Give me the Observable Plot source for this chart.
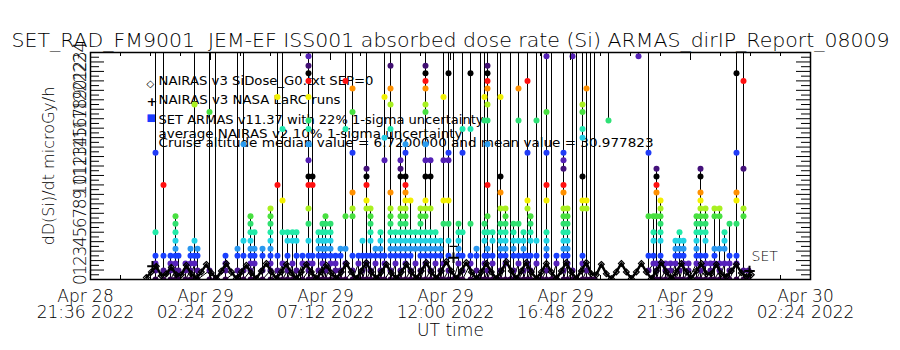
<!DOCTYPE html>
<html><head><meta charset="utf-8">
<script src="https://cdn.jsdelivr.net/npm/d3@7"></script>
<script src="https://cdn.jsdelivr.net/npm/@observablehq/plot@0.6"></script>
<style>
html,body{margin:0;padding:0;background:#fff;}
#chart svg text{font-family:"DejaVu Sans",sans-serif;white-space:pre;}
</style></head><body><div id="chart"></div>
<script>
// ---- text ----
const titleText = "SET_RAD_FM9001  JEM-EF ISS001 absorbed dose rate (Si) ARMAS_dirIP_Report_08009";
const yLabel = "dD(Si)/dt microGy/h";
const xLabel = "UT time";
const legendLines = [
  "NAIRAS v3 SiDose_G0.txt SEP=0",
  "NAIRAS v3 NASA LaRC runs",
  "SET ARMAS v11.37 with 22% 1-sigma uncertainty",
  "average NAIRAS v2 10% 1-sigma uncertainty",
  "Cruise altitude median value = 6.7200000 and mean value = 30.977823"
];
const legendSymbols = ["\u25C7", "+", "\u25A0"];
const setLabel = "SET";

// ---- axes ----
const xTickTimes = ["2022-04-28T21:36Z","2022-04-29T02:24Z","2022-04-29T07:12Z","2022-04-29T12:00Z","2022-04-29T16:48Z","2022-04-29T21:36Z","2022-04-30T02:24Z"];
const xTickLabels = ["Apr 28\n21:36 2022","Apr 29\n02:24 2022","Apr 29\n07:12 2022","Apr 29\n12:00 2022","Apr 29\n16:48 2022","Apr 29\n21:36 2022","Apr 30\n02:24 2022"];
const xMinorStepMin = 72;
const yTickLabels = ["0","1","2","3","4","5","6","7","8","9","10","11","12","13","14","15","16","17","18","19","20","21","22","23","24"];

// ---- data: hours since 2022-04-29 00:00 UT ----
// NAIRAS v3 SiDose (sampled every 12 min from 2022-04-28 23:50 UT)
const nairasStart = "2022-04-28T23:50Z";
const nairasStepMin = 12;
const nairasV = [0.2,0.8,1.4,0.4,0.6,1.3,0.5,0.5,1.5,0.6,0.1,0.8,1.6,0.7,0.1,0.9,1.7,0.8,0.1,0.8,
  1.5,0.7,0.1,0.9,1.7,0.8,0.1,0.8,1.6,0.7,0.1,0.8,1.6,0.8,0.1,0.8,1.5,0.7,0.1,0.8,
  1.7,0.8,0.1,0.9,1.8,0.8,0.1,0.8,1.6,0.7,0.1,0.8,1.6,0.8,0.1,0.9,1.8,0.8,0.1,0.9,
  1.9,0.9,0.1,0.9,1.8,0.8,0.1,0.8,1.7,0.8,0.1,0.9,1.9,0.9,0.1,0.9,1.8,0.8,0.1,0.8,
  1.7,0.8,0.1,0.9,1.8,0.8,0.1,0.9,1.8,0.6,0.5,1.6,0.6,0.1,0.8,1.7,0.8,0.1,0.8,1.7,
  0.8,0.1,0.9,1.8,0.8,0.1,0.8,1.7,0.8,0.1,0.9,1.7,0.6,0.6,1.6,0.6,0.3,0.9,1.6,0.7,
  0.3,0.5];
// NAIRAS v3 NASA LaRC runs
const nasaH = [0.08, 12.12, 23.96];
const nasaV = [1.4, 2.3, 0.9];
// average NAIRAS v2 (10% 1-sigma)
const avgH = [12.12];
const avgLo = [2.3];
const avgHi = [3.5];
// SET ARMAS: [hour, values in time order]; null = data gap
const armasCols = [
 [0.20,[0.95,1.7,2.5,5.0,13.4,30,0]],
 [0.52,[0.95,2.5,10.0,30,0]],
 [0.80,[0.95,1.7,2.5,0]],
 [1.00,[0.95,1.7,2.5,3.25,4.1,5.0,5.9,6.7,0]],
 [1.12,[0.95,2.5,0]],
 [1.40,[0.95,1.7,0]],
 [1.60,[0.95,1.7,2.5,3.25,0]],
 [1.76,[1.7,2.5,4.1,18.5,30,0]],
 [1.88,[0.95,2.5,3.25,0]],
 [2.36,[0.95,17.7,30,0]],
 [2.60,[0,30,0]],
 [3.00,[0.95,1.7,2.5,0]],
 [3.48,[0.95,2.5,3.25,30,0]],
 [3.72,[0.95,2.5,4.1,14.3,30,0]],
 [4.00,[0.95,1.7,2.5,3.25,4.1,5.0,5.9,6.7,0]],
 [4.16,[1.7,2.5,3.25,5.0,0]],
 [4.48,[0.95,2.5,3.25,0]],
 [4.80,[0.95,1.7,2.5,3.25,4.1,5.0,5.9,6.7,7.5,0]],
 [5.08,[0.95,2.5,10.0,19.3,30,0]],
 [5.28,[1.7,5.0,8.35,15.9,30,0]],
 [5.48,[0.95,2.5,4.1,5.0,0]],
 [5.68,[1.7,4.1,5.0,0]],
 [5.84,[0.95,2.5,4.1,5.0,0]],
 [6.08,[1.7,2.5,0]],
 [6.32,[0.95,1.7,2.5,4.1,5.9,7.5,10.0,10.9,12.6,14.3,15.9,16.8,19.3,21.0,21.8,22.6,23.6,30,0]],
 [6.48,[1.7,2.5,10.0,10.9,30,0]],
 [6.72,[0.95,2.5,3.25,4.1,5.0,0]],
 [6.88,[1.7,2.5,3.25,4.1,5.0,5.9,0]],
 [7.00,[0.95,2.5,3.25,4.1,5.0,5.9,6.7,0]],
 [7.20,[1.7,2.5,3.25,4.1,5.0,5.9,0]],
 [7.40,[0.95,1.7,2.5,0]],
 [7.60,[0.95,2.5,3.25,0]],
 [7.80,[1.7,3.25,6.7,15.9,21.0,30,0]],
 [8.08,[0.95,2.5,6.7,7.5,9.2,13.4,17.7,20.2,30,0]],
 [8.32,[1.7,2.5,0]],
 [8.48,[0.95,2.5,4.1,0]],
 [8.64,[1.7,2.5,7.5,8.35,10.0,10.9,11.7,30,0]],
 [8.80,[0.95,2.5,4.1,5.0,5.9,6.7,7.5,0]],
 [9.00,[1.7,2.5,3.25,0]],
 [9.20,[0.95,2.5,3.25,4.1,5.0,0]],
 [9.36,[1.7,2.5,12.6,15.0,19.3,30,0]],
 [9.60,[0.95,2.5,3.25,4.1,5.0,5.9,6.7,7.5,9.2,15.9,18.5,20.2,22.6,30,0]],
 [9.80,[1.7,2.5,3.25,4.1,5.0,0]],
 [10.00,[0.95,2.5,3.25,4.1,5.0,5.9,6.7,7.5,10.9,11.7,12.6,30,0]],
 [10.20,[1.7,2.5,3.25,4.1,5.0,5.9,6.7,7.5,8.35,9.2,10.0,10.9,13.4,14.3,0]],
 [10.40,[0.95,2.5,3.25,4.1,5.0,8.35,0]],
 [10.60,[1.7,3.25,4.1,5.0,0]],
 [10.80,[0.95,2.5,3.25,4.1,5.0,5.9,6.7,7.5,0]],
 [11.00,[1.7,2.5,3.25,4.1,5.0,6.7,7.5,8.35,10.9,12.6,14.3,17.7,18.5,20.2,21.0,21.8,22.6,30,0]],
 [11.20,[0.95,2.5,3.25,4.1,5.0,7.5,10.9,12.6,0]],
 [11.40,[1.7,2.5,3.25,4.1,5.0,0]],
 [11.60,[0.95,2.5,3.25,4.1,0]],
 [11.72,[1.7,5.9,8.35,12.6,19.3,30,0]],
 [11.92,[0.95,2.5,4.1,5.9,8.35,12.6,13.4,21.8,30,0]],
 [12.12,[0,30,0]],
 [12.32,[1.7,2.5,3.25,4.1,5.0,5.9,0]],
 [12.48,[0.95,2.5,5.0,13.4,15.9,30,0]],
 [12.80,[1.7,2.5,5.9,15.9,21.8,30,0]],
 [13.04,[0.95,2.5,3.25,0]],
 [13.20,[0,30,0]],
 [13.36,[1.7,2.5,4.1,5.0,5.9,16.8,19.3,30,0]],
 [13.48,[0.95,2.5,3.25,5.0,6.7,10.0,14.3,16.8,18.5,20.2,21.0,21.8,22.6,30,0]],
 [13.68,[1.7,2.5,4.1,5.0,0]],
 [13.88,[0,30,0]],
 [14.00,[0.95,2.5,3.25,4.1,5.0,5.9,7.5,9.2,10.9,19.3,30,0]],
 [14.20,[1.7,2.5,3.25,4.1,5.0,5.9,6.7,7.5,0]],
 [14.40,[0,30,0]],
 [14.52,[0.95,2.5,3.25,4.1,5.0,5.9,0]],
 [14.72,[1.7,2.5,4.1,5.9,16.8,20.2,30,0]],
 [14.92,[0.95,2.5,3.25,4.1,5.0,0]],
 [15.08,[1.7,2.5,7.5,8.35,13.4,21.0,30,0]],
 [15.20,[0.95,2.5,4.1,5.0,5.9,6.7,0]],
 [15.44,[1.7,2.5,4.1,16.8,30,0]],
 [15.64,[0,30,0]],
 [15.84,[0.95,2.5,3.25,4.1,5.0,8.35,10.0,13.4,17.7,23.6,30,0]],
 [16.04,[0,30,0]],
 [16.24,[1.7,2.5,0]],
 [16.52,[0.95,2.5,3.25,4.1,5.0,5.9,6.7,7.5,9.2,10.0,11.7,12.6,13.4,30,0]],
 [16.68,[1.7,2.5,3.25,4.1,5.0,5.9,6.7,7.5,0]],
 [16.88,[0.95,23.6,30,0]],
 [17.04,[0,30,0]],
 [17.28,[1.7,2.5,7.5,8.35,10.9,15.0,15.9,17.7,18.5,30,0]],
 [17.44,[0.95,7.5,8.35,20.2,30,0]],
 [17.60,[0,30,0]],
 [17.76,[0,30,0,null]],
 [18.32,[16.8,30,null]],
 [19.52,[23.6,30,null]],
 [19.92,[30,13.4,6.7,2.5,0.95]],
 [20.12,[1.7,2.5,4.1,5.0,6.7,0]],
 [20.24,[0.95,1.7,6.7,9.2,10.0,10.9,11.7,0]],
 [20.40,[1.7,2.5,4.1,5.0,5.9,6.7,7.5,8.35,0]],
 [20.60,[0.95,1.7,0]],
 [20.80,[0.95,1.7,0]],
 [21.00,[1.7,2.5,3.25,4.1,0]],
 [21.16,[0.95,2.5,3.25,4.1,5.0,0]],
 [21.32,[1.7,2.5,3.25,4.1,0]],
 [21.52,[0.95,1.7,0]],
 [21.84,[1.7,2.5,3.25,4.1,5.0,5.9,6.7,0]],
 [22.00,[0.95,2.5,5.0,5.9,6.7,7.5,8.35,9.2,10.9,11.7,0]],
 [22.20,[1.7,2.5,4.1,5.0,5.9,6.7,7.5,0]],
 [22.40,[0.95,1.7,0]],
 [22.56,[1.7,2.5,3.25,6.7,7.5,0]],
 [22.76,[0.95,1.7,3.25,6.7,7.5,0]],
 [22.96,[1.7,3.25,4.1,5.0,0]],
 [23.16,[0.95,1.7,2.5,5.9,0]],
 [23.44,[1.7,2.5,5.9,8.35,9.2,13.4,21.8,30,0]],
 [23.72,[0.95,6.7,7.5,11.7,21.0,30,0]],
 [23.92,[0.95,0]]
];
const setLabelAt = {h: 23.92, v: 2.4};

// ---- colour table (dose levels wrap every 11 microGy/h) ----
const levelStops = [0, 0.3, 0.95, 1.7, 2.5, 3.25, 4.1, 5.0, 5.9, 6.7, 7.5, 8.35, 9.2, 10.0, 10.6, 11];
const levelColors = ["#34054c","#3a0a5a","#4a1690","#5622bc","#1a40ff","#2a98f0","#22d4e4","#22eaa8","#30e070","#48e040","#a8f020","#f4f000","#ff9000","#ff1010","#000000","#000000"];

// ---- build ----
const T0 = Date.parse("2022-04-29T00:00Z");
const hToDate = h => new Date(T0 + h * 3600e3);
const levelColor = d3.scaleLinear(levelStops, levelColors);
const armas = armasCols.flatMap(([h, vals]) => vals.map(v => ({t: hToDate(h), v, col: v == null ? null : levelColor(v % 11)})));
const armasDots = armas.filter(d => d.v != null);
const nS = Date.parse(nairasStart);
const nairas = nairasV.map((v, i) => ({t: new Date(nS + i * nairasStepMin * 60e3), v}));
const nasa = nasaH.map((h, i) => ({t: hToDate(h), v: nasaV[i]}));
const avg = avgH.map((h, i) => ({t: hToDate(h), lo: avgLo[i], hi: avgHi[i]}));
const xTicks = xTickTimes.map((t, i) => ({t: new Date(t), label: xTickLabels[i]}));
const x0 = Date.parse(xTickTimes[0]), x1 = Date.parse(xTickTimes[xTickTimes.length - 1]);
const xMinor = d3.range(x0, x1 + 1, xMinorStepMin * 60e3).map(t => new Date(t));
const yMajor = yTickLabels.map(Number);
const yMinor = yMajor.slice(0, -1).map(v => v + 0.5);

const W = 900, H = 350, mL = 90, mR = 90, mT = 52, mB = 71;
const fw = W - mL - mR, fh = H - mT - mB;
const capSymbol = {draw(ctx, size) { const r = 4; ctx.moveTo(-r, 0); ctx.lineTo(r, 0); }};
const thin = {fontWeight: 200};

const plot = Plot.plot({
  width: W, height: H,
  marginLeft: mL, marginRight: mR, marginTop: mT, marginBottom: mB,
  style: {background: "#fff", color: "#000", fontFamily: "DejaVu Sans"},
  x: {type: "utc", domain: [new Date(x0), new Date(x1)], axis: null},
  y: {domain: [0, 24], axis: null},
  color: {type: "identity"},
  marks: [
    // legend (drawn underneath the data)
    ...legendLines.map((s, i) => Plot.text([s], {frameAnchor: "top-left", dx: 68, dy: [28, 47, 67, 81, 90][i], textAnchor: "start", lineAnchor: "middle", fontSize: 13, fill: "#000"})),
    Plot.text([legendSymbols[0]], {frameAnchor: "top-left", dx: 56, dy: 31, textAnchor: "start", lineAnchor: "middle", fontSize: 10, fill: "#000", fontWeight: "bold"}),
    Plot.text([legendSymbols[1]], {frameAnchor: "top-left", dx: 56, dy: 49, textAnchor: "start", lineAnchor: "middle", fontSize: 13, fill: "#000", fontWeight: "bold"}),
    Plot.text([legendSymbols[2]], {frameAnchor: "top-left", dx: 56, dy: 65, textAnchor: "start", lineAnchor: "middle", fontSize: 10, fill: "#1a3cff"}),
    // SET ARMAS line
    Plot.line(armas, {x: "t", y: "v", stroke: "#000", strokeWidth: 1, clip: true}),
    // SET ARMAS dots
    Plot.dot(armasDots, {x: "t", y: "v", r: 3, fill: "col", stroke: null, clip: true}),
    // NAIRAS hills
    Plot.line(nairas, {x: "t", y: "v", stroke: "#000", strokeWidth: 2.5, clip: true}),
    Plot.dot(nairas, {x: "t", y: "v", symbol: "diamond2", r: 2.6, stroke: "#000", strokeWidth: 1.2, clip: true}),
    // NASA LaRC + average NAIRAS v2
    Plot.ruleX(avg, {x: "t", y1: "lo", y2: "hi", stroke: "#000", strokeWidth: 1}),
    Plot.dot(avg, {x: "t", y: "hi", symbol: capSymbol, stroke: "#000", strokeWidth: 1.2}),
    Plot.dot(nasa, {x: "t", y: "v", symbol: "plus", r: 3.5, stroke: "#000", strokeWidth: 2}),
    Plot.text([setLabelAt], {x: d => hToDate(d.h), y: "v", text: () => setLabel, dx: 3, textAnchor: "start", fontSize: 14, fill: "#000", ...thin}),
    // ticks
    Plot.tickX(xTicks, {x: "t", insetTop: fh - 8, stroke: "#000"}),
    Plot.tickX(xTicks, {x: "t", insetBottom: fh - 8, stroke: "#000"}),
    Plot.tickX(xMinor, {x: d => d, insetTop: fh - 4, stroke: "#000"}),
    Plot.tickX(xMinor, {x: d => d, insetBottom: fh - 4, stroke: "#000"}),
    Plot.tickY(yMajor, {y: d => d, insetRight: fw - 14, stroke: "#000"}),
    Plot.tickY(yMajor, {y: d => d, insetLeft: fw - 14, stroke: "#000"}),
    Plot.tickY(yMinor, {y: d => d, insetRight: fw - 9, stroke: "#000"}),
    Plot.tickY(yMinor, {y: d => d, insetLeft: fw - 9, stroke: "#000"}),
    Plot.frame({stroke: "#000", strokeWidth: 1.5}),
    // tick labels
    Plot.text(yTickLabels, {y: d => +d, text: d => d, frameAnchor: "left", dx: -5, rotate: -90, textAnchor: "middle", lineAnchor: "bottom", fontSize: 17, fill: "#000", ...thin}),
    Plot.text(xTicks, {x: "t", text: "label", frameAnchor: "bottom", dx: -5, dy: 11, lineAnchor: "top", lineHeight: 0.95, fontSize: 17, fill: "#000", ...thin}),
    // titles
    Plot.text([xLabel], {frameAnchor: "bottom", dy: 51, lineAnchor: "middle", fontSize: 17, fill: "#000", ...thin}),
    Plot.text([yLabel], {frameAnchor: "left", dx: -42, rotate: -90, textAnchor: "middle", lineAnchor: "middle", fontSize: 16, fill: "#000", ...thin}),
    Plot.text([titleText], {frameAnchor: "top", dy: -6, lineAnchor: "bottom", fontSize: 20, fill: "#000", ...thin})
  ]
});

// fit horizontal text widths to the reference
const textWidths = new Map([[titleText, 878], [legendLines[0], 215], [legendLines[1], 182], [legendLines[2], 325], [legendLines[3], 304], [legendLines[4], 495], [xLabel, 67]]);
d3.select(plot).selectAll("text").each(function () {
  const w = textWidths.get(this.textContent);
  if (w) { this.setAttribute("textLength", w); this.setAttribute("lengthAdjust", "spacingAndGlyphs"); }
});
document.getElementById("chart").appendChild(plot);
</script></body></html>
